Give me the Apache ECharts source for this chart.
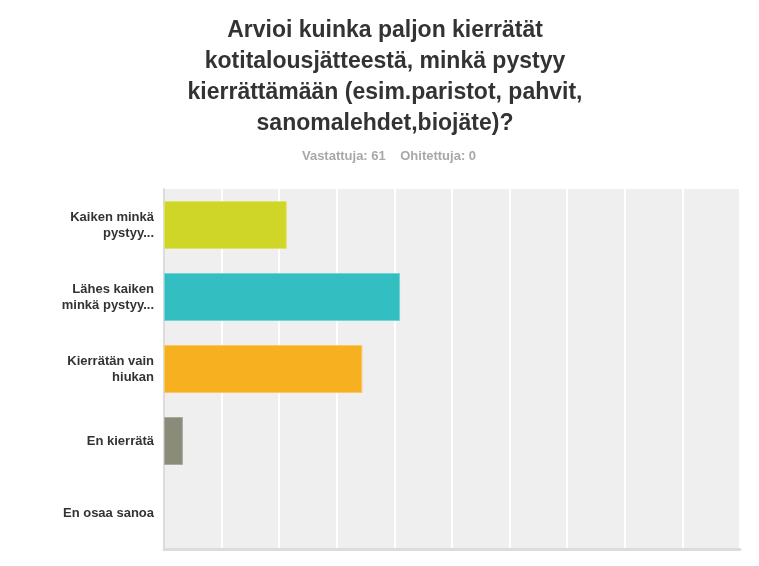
<!DOCTYPE html>
<html>
<head>
<meta charset="utf-8">
<script src="https://cdn.jsdelivr.net/npm/echarts@6/dist/echarts.min.js"></script>
<style>
  html, body { margin: 0; padding: 0; background: #fff; }
  #chart { width: 759px; height: 566px; }
</style>
</head>
<body>
<div id="chart"></div>
<script>
// vastausvaihtoehdot ja osuudet (%) — 61 vastaajaa
const categories = [
  'Kaiken minkä\npystyy...',
  'Lähes kaiken\nminkä pystyy...',
  'Kierrätän vain\nhiukan',
  'En kierrätä',
  'En osaa sanoa',
];
const percents = [21.31, 40.98, 34.43, 3.28, 0];
const barColors = ['#d0d628', '#33bfc1', '#f7b020', '#8a8b79', '#8a8b79'];
const barBorders = ['#dfe36c', '#74d3d4', '#f9c764', '#a9aa9d', '#a9aa9d'];
const titleText = 'Arvioi kuinka paljon kierrätät\nkotitalousjätteestä, minkä pystyy\nkierrättämään (esim.paristot, pahvit,\nsanomalehdet,biojäte)?';
const subText = 'Vastattuja: 61    Ohitettuja: 0';

const chart = echarts.init(document.getElementById('chart'));

chart.setOption({
  animation: false,
  backgroundColor: '#fff',
  title: [
    {
      text: titleText,
      left: 380, top: 10,
      textAlign: 'center',
      textStyle: {
        fontFamily: 'Liberation Sans, Arial, sans-serif',
        fontSize: 23, fontWeight: 'bold', color: '#333', lineHeight: 31,
      },
    },
    {
      text: subText,
      left: 384, top: 145,
      textAlign: 'center',
      textStyle: {
        fontFamily: 'Liberation Sans, Arial, sans-serif',
        fontSize: 13, fontWeight: 'bold', color: '#a8a8a8',
      },
    },
  ],
  grid: {
    left: 164, right: 19, top: 189, bottom: 17,
    show: true, backgroundColor: '#efefef', borderWidth: 0,
  },
  xAxis: {
    type: 'value', min: 0, max: 100, interval: 10,
    axisLabel: { show: false },
    axisTick: { show: false },
    axisLine: { show: true, lineStyle: { color: '#dcdcdc', width: 3 } },
    splitLine: { show: true, lineStyle: { color: '#fff', width: 2 } },
  },
  yAxis: {
    type: 'category', inverse: true, data: categories,
    axisTick: { show: false },
    axisLine: { show: true, lineStyle: { color: '#dcdcdc', width: 2 } },
    axisLabel: {
      margin: 10,
      fontFamily: 'Liberation Sans, Arial, sans-serif',
      fontSize: 13, fontWeight: 'bold', color: '#333', lineHeight: 16,
      align: 'right',
    },
  },
  series: [
    {
      type: 'bar',
      data: percents.map((v, i) => ({
        value: v,
        itemStyle: {
          color: barColors[i], borderColor: barBorders[i],
          borderWidth: v > 0 ? 1 : 0,
        },
      })),
      barWidth: 48,
      silent: true,
    },
  ],
});
</script>
</body>
</html>
